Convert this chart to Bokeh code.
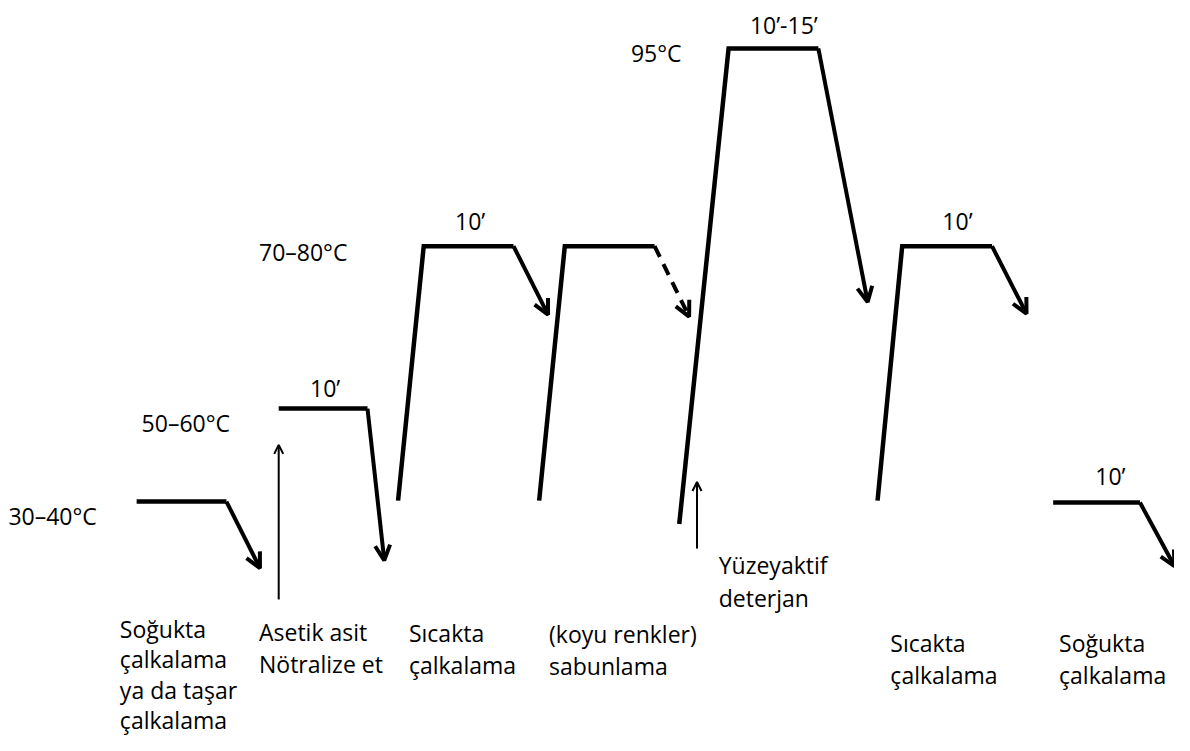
from bokeh.plotting import figure
from bokeh.models import Arrow, OpenHead, Range1d
from bokeh.core.properties import value
from bokeh.embed import file_html
from bokeh.resources import INLINE

# ---- schematic process data (diagram units) ----
plateau_x0 = [138, 282, 429, 572, 738, 914, 1067]
plateau_x1 = [229, 372, 520, 663, 829, 1005, 1155]
plateau_y = [512, 417, 251, 251, 49, 251, 513]
rise_x0 = [None, None, 403, 546, 688, 889, None]
rise_y0 = [None, None, 511, 511, 535, 511, None]
fall_x1 = [263, 389, 555, 698, 879, 1040, 1190]
fall_y1 = [580, 572, 321, 323, 308, 320, 578]
fall_dashed = [False, False, False, True, False, False, False]

additive_x = [282, 706]
additive_y0 = [612, 560]
additive_y1 = [454, 492]

temp_labels = ["30–40°C", "50–60°C", "70–80°C", "95°C"]
time_labels = ["10’", "10’", "10’-15’", "10’", "10’"]
step_labels = [
    ["Soğukta", "çalkalama", "ya da taşar", "çalkalama"],
    ["Asetik asit", "Nötralize et"],
    ["Sıcakta", "çalkalama"],
    ["(koyu renkler)", "sabunlama"],
    ["Yüzeyaktif", "deterjan"],
    ["Sıcakta", "çalkalama"],
    ["Soğukta", "çalkalama"],
]

FONT = value("Open Sans")
FS = "23px"

p = figure(width=1174, height=735, output_backend="svg", toolbar_location=None,
           x_range=Range1d(0, 1190), y_range=Range1d(751, 0), min_border=0)
p.axis.visible = False
p.grid.visible = False
p.outline_line_color = None
p.background_fill_color = "white"
p.border_fill_color = "white"

# plateaus with rising ramps
for i in range(len(plateau_x0)):
    xs = [plateau_x0[i], plateau_x1[i]]
    ys = [plateau_y[i], plateau_y[i]]
    if rise_x0[i] is not None:
        xs = [rise_x0[i]] + xs
        ys = [rise_y0[i]] + ys
    p.line(xs, ys, line_width=4.5, line_color="black", line_join="miter")
    # falling arrow
    p.add_layout(Arrow(
        x_start=plateau_x1[i], y_start=plateau_y[i], x_end=fall_x1[i], y_end=fall_y1[i],
        line_width=4, line_color="black",
        line_dash="12 8" if fall_dashed[i] else "solid",
        end=OpenHead(size=15, line_width=4, line_color="black")))

# thin additive arrows
for i in range(len(additive_x)):
    p.add_layout(Arrow(
        x_start=additive_x[i], y_start=additive_y0[i], x_end=additive_x[i], y_end=additive_y1[i],
        line_width=2, line_color="black",
        end=OpenHead(size=9, line_width=2, line_color="black")))

# temperature labels
p.text(x=[8, 143, 262, 639], y=[527, 432, 257, 54], text=temp_labels,
       text_font=FONT, text_font_size=FS, text_baseline="alphabetic",
       text_align="left", text_color="black")

# duration labels
p.text(x=[329, 476, 794, 970, 1125], y=[396, 225, 25, 225, 486], text=time_labels,
       text_font=FONT, text_font_size=FS, text_baseline="alphabetic",
       text_align="center", text_color="black")

# step labels
label_x = [121, 262, 414, 556, 728, 902, 1073]
label_y = [642, 645, 646, 647, 577, 656, 656]
pitches = [31, 33, 33, 33, 33, 33, 33]
lx, ly, lt = [], [], []
for i, lines in enumerate(step_labels):
    for j, t in enumerate(lines):
        lx.append(label_x[i])
        ly.append(label_y[i] + j * pitches[i])
        lt.append(t)
p.text(x=lx, y=ly, text=lt, text_font=FONT, text_font_size=FS,
       text_baseline="alphabetic", text_align="left", text_color="black")

open("out.html", "w").write(file_html(p, INLINE))
